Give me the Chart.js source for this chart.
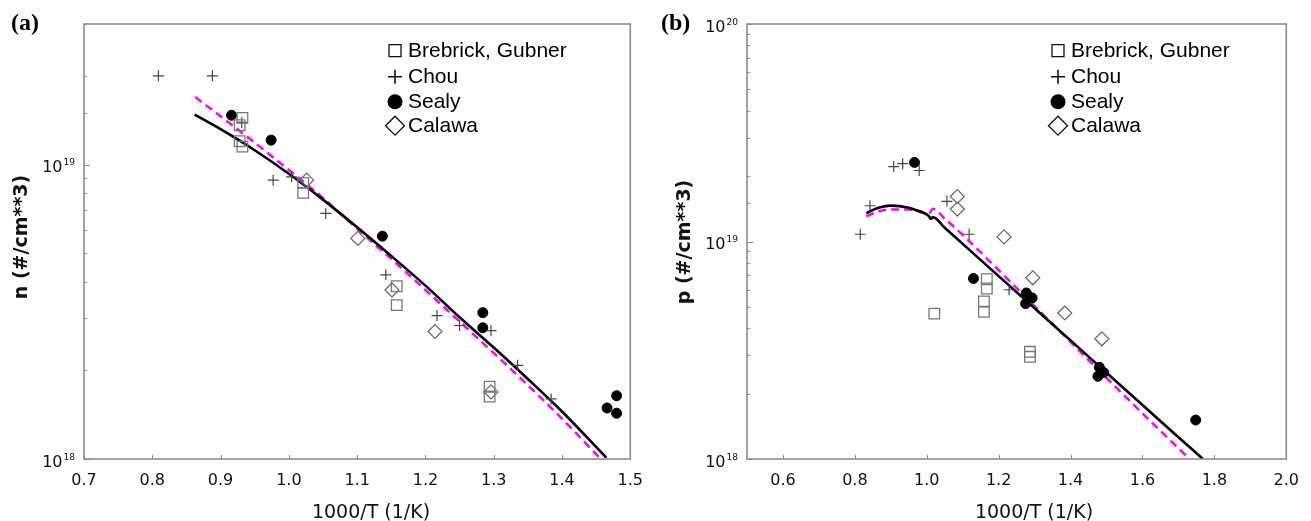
<!DOCTYPE html>
<html><head><meta charset="utf-8">
<script src="https://cdn.jsdelivr.net/npm/chart.js@4.4.0/dist/chart.umd.min.js"></script>
<style>
html,body{margin:0;padding:0;background:#fff;}
#wrap{position:relative;width:1311px;height:521px;overflow:hidden;background:#fff;}
canvas{position:absolute;top:0;}
.lbl{position:absolute;font-family:"Liberation Serif","DejaVu Serif",serif;font-weight:bold;font-size:24px;color:#000;line-height:1;}
.xt{position:absolute;font-family:"DejaVu Sans",sans-serif;font-size:19px;color:#111;white-space:nowrap;transform:translate(-50%,-50%);line-height:1;}
.yt{position:absolute;font-family:"DejaVu Sans",sans-serif;font-weight:bold;font-size:19px;color:#111;white-space:nowrap;transform:translate(-50%,-50%) rotate(-90deg);line-height:1;}
</style></head>
<body><div id="wrap">
<canvas id="ca" width="655" height="521" style="left:0"></canvas>
<canvas id="cb" width="656" height="521" style="left:655px"></canvas>
<div class="lbl" style="left:11px;top:10px">(a)</div>
<div class="lbl" style="left:661px;top:10px">(b)</div>
<div class="xt" style="left:371px;top:511px">1000/T (1/K)</div>
<div class="xt" style="left:1034px;top:511px">1000/T (1/K)</div>
<div class="yt" style="left:20px;top:237px">n (#/cm**3)</div>
<div class="yt" style="left:683px;top:242px">p (#/cm**3)</div>
</div>
<script>
// ---------- shared ----------
const seriesNames = ['Brebrick, Gubner', 'Chou', 'Sealy', 'Calawa'];
const xTicksA = [0.7, 0.8, 0.9, 1.0, 1.1, 1.2, 1.3, 1.4, 1.5];
const xTicksB = [0.6, 0.8, 1.0, 1.2, 1.4, 1.6, 1.8, 2.0];
const yLabelsA = [1e18, 1e19];
const yLabelsB = [1e18, 1e19, 1e20];

// ---------- data: panel (a) electrons ----------
const brebrickAx = [0.932, 0.928, 0.928, 0.932, 1.021, 1.021, 1.158, 1.158, 1.294, 1.294];
const brebrickAy = [1.44e19, 1.36e19, 1.20e19, 1.15e19, 8.66e18, 8.01e18, 3.86e18, 3.33e18, 1.76e18, 1.63e18];
const chouAx = [0.809, 0.888, 0.931, 0.977, 1.004, 1.054, 1.142, 1.217, 1.250, 1.296, 1.335, 1.384];
const chouAy = [2.0e19, 2.0e19, 1.39e19, 8.85e18, 9.08e18, 6.82e18, 4.22e18, 3.07e18, 2.84e18, 2.73e18, 2.08e18, 1.60e18];
const sealyAx = [0.916, 0.974, 1.137, 1.284, 1.284, 1.480, 1.466, 1.480];
const sealyAy = [1.47e19, 1.21e19, 5.71e18, 3.14e18, 2.79e18, 1.64e18, 1.49e18, 1.43e18];
const calawaAx = [1.026, 1.101, 1.151, 1.214, 1.296];
const calawaAy = [8.85e18, 5.61e18, 3.75e18, 2.71e18, 1.69e18];
const modelAx = [0.862, 0.90, 0.95, 1.00, 1.05, 1.10, 1.15, 1.20, 1.25, 1.30, 1.35, 1.40, 1.465];
const modelAy = [1.476e19, 1.318e19, 1.118e19, 9.30e18, 7.60e18, 6.12e18, 4.89e18, 3.88e18, 3.03e18, 2.39e18, 1.87e18, 1.45e18, 1.01e18];
const fitAx = [0.863, 0.90, 0.95, 1.00, 1.05, 1.10, 1.15, 1.20, 1.25, 1.30, 1.35, 1.40, 1.455];
const fitAy = [1.694e19, 1.459e19, 1.186e19, 9.58e18, 7.70e18, 6.05e18, 4.78e18, 3.75e18, 2.93e18, 2.29e18, 1.78e18, 1.37e18, 1.01e18];

// ---------- data: panel (b) holes ----------
const brebrickBx = [1.021, 1.167, 1.167, 1.159, 1.159, 1.287, 1.287];
const brebrickBy = [4.66e18, 6.71e18, 6.08e18, 5.30e18, 4.75e18, 3.11e18, 2.95e18];
const chouBx = [0.815, 0.842, 0.908, 0.933, 0.979, 1.056, 1.118, 1.229];
const chouBy = [1.08e19, 1.46e19, 2.21e19, 2.28e19, 2.12e19, 1.53e19, 1.08e19, 6.0e18];
const sealyBx = [0.966, 1.130, 1.277, 1.293, 1.275, 1.480, 1.492, 1.476, 1.748];
const sealyBy = [2.31e19, 6.76e18, 5.80e18, 5.50e18, 5.18e18, 2.64e18, 2.50e18, 2.40e18, 1.51e18];
const calawaBx = [1.085, 1.085, 1.215, 1.295, 1.384, 1.487];
const calawaBy = [1.61e19, 1.41e19, 1.05e19, 6.81e18, 4.69e18, 3.57e18];
const modelBx = [0.832, 0.86, 0.90, 0.95, 0.98, 1.005, 1.012, 1.017, 1.05, 1.10, 1.20, 1.30, 1.40, 1.50, 1.60, 1.70, 1.768];
const modelBy = [1.349e19, 1.419e19, 1.462e19, 1.429e19, 1.374e19, 1.312e19, 1.271e19, 1.294e19, 1.156e19, 9.75e18, 6.93e18, 4.93e18, 3.51e18, 2.49e18, 1.77e18, 1.26e18, 1.00e18];
const fitBx = [0.832, 0.86, 0.90, 0.95, 0.98, 1.005, 1.018, 1.05, 1.10, 1.20, 1.30, 1.40, 1.50, 1.60, 1.731];
const fitBy = [1.303e19, 1.365e19, 1.403e19, 1.403e19, 1.380e19, 1.340e19, 1.413e19, 1.274e19, 1.072e19, 7.38e18, 5.05e18, 3.45e18, 2.36e18, 1.62e18, 1.00e18];

// ---------- helpers ----------
const pts = (xs, ys) => xs.map((x, i) => ({x: x, y: ys[i]}));
const isPow10 = v => { const e = Math.log10(v); return Math.abs(e - Math.round(e)) < 1e-6; };

const markerStyles = [
  {pointStyle: 'rect', pointRadius: 7.5, pointBorderColor: '#777', pointBackgroundColor: 'rgba(0,0,0,0)', pointBorderWidth: 1.3},
  {pointStyle: 'cross', pointRadius: 5.5, pointBorderColor: '#444', pointBackgroundColor: '#444', pointBorderWidth: 1.2},
  {pointStyle: 'circle', pointRadius: 5, pointBorderColor: '#000', pointBackgroundColor: '#000', pointBorderWidth: 1},
  {pointStyle: 'rectRot', pointRadius: 7, pointBorderColor: '#666', pointBackgroundColor: 'rgba(0,0,0,0)', pointBorderWidth: 1.2}
];

const framePlugin = {
  id: 'frame',
  afterDraw(chart, args, opts) {
    const ctx = chart.ctx, a = chart.chartArea, xs = chart.scales.x, ys = chart.scales.y;
    ctx.save();
    ctx.strokeStyle = '#888'; ctx.lineWidth = 1;
    xs.ticks.forEach(t => {
      const px = Math.round(xs.getPixelForValue(t.value)) + 0.5;
      ctx.beginPath(); ctx.moveTo(px, a.bottom); ctx.lineTo(px, a.bottom - 4); ctx.stroke();
    });
    ys.ticks.forEach(t => {
      const py = Math.round(ys.getPixelForValue(t.value)) + 0.5;
      const len = isPow10(t.value) ? 6 : 3;
      ctx.beginPath(); ctx.moveTo(a.left, py); ctx.lineTo(a.left + len, py); ctx.stroke();
    });
    ctx.strokeStyle = '#8c8c8c'; ctx.lineWidth = 1.6;
    ctx.strokeRect(a.left, a.top, a.right - a.left, a.bottom - a.top);
    ctx.fillStyle = '#111';
    opts.yLabels.forEach(v => {
      const py = ys.getPixelForValue(v);
      const exp = String(Math.round(Math.log10(v)));
      ctx.font = '9px "DejaVu Sans"';
      ctx.textAlign = 'right'; ctx.textBaseline = 'alphabetic';
      const right = a.left - 9;
      ctx.fillText(exp, right, py + 0.8);
      const w = ctx.measureText(exp).width;
      ctx.font = '16px "DejaVu Sans"';
      ctx.fillText('10', right - w - 1, py + 7.5);
    });
    const mx = a.left + 311, tx = a.left + 324;
    const rows = [26.7, 52.7, 77.7, 101.7];
    ctx.font = '21px "Liberation Sans", Arial, sans-serif';
    ctx.textAlign = 'left'; ctx.textBaseline = 'middle';
    seriesNames.forEach((name, i) => {
      const y = a.top + rows[i];
      ctx.strokeStyle = '#111'; ctx.fillStyle = '#000'; ctx.lineWidth = 1.3;
      ctx.beginPath();
      if (i === 0) { ctx.rect(mx - 6, y - 6, 12, 12); ctx.stroke(); }
      else if (i === 1) { ctx.lineWidth = 1.6; ctx.moveTo(mx - 7, y); ctx.lineTo(mx + 7, y); ctx.moveTo(mx, y - 7); ctx.lineTo(mx, y + 7); ctx.stroke(); }
      else if (i === 2) { ctx.arc(mx, y, 7.5, 0, Math.PI * 2); ctx.fill(); }
      else { ctx.moveTo(mx - 9.5, y); ctx.lineTo(mx, y - 9.5); ctx.lineTo(mx + 9.5, y); ctx.lineTo(mx, y + 9.5); ctx.closePath(); ctx.stroke(); }
      ctx.fillStyle = '#000';
      ctx.fillText(name, tx, y + 1);
    });
    ctx.restore();
  }
};

function makeChart(id, d) {
  const markerSets = [
    [d.bx, d.by], [d.cx, d.cy], [d.sx, d.sy], [d.kx, d.ky]
  ].map((s, i) => Object.assign({
    label: seriesNames[i], data: pts(s[0], s[1]), showLine: false, order: i
  }, markerStyles[i]));
  const lines = [
    {label: 'model', data: pts(d.mx, d.my), showLine: true, borderColor: '#000', borderWidth: 2.6, pointRadius: 0, order: 10, cubicInterpolationMode: 'monotone'},
    {label: 'fit', data: pts(d.fx, d.fy), showLine: true, borderColor: '#ff00ff', borderWidth: 2.5, borderDash: [8, 5], pointRadius: 0, order: 11, cubicInterpolationMode: 'monotone'}
  ];
  return new Chart(document.getElementById(id), {
    type: 'scatter',
    data: {datasets: markerSets.concat(lines)},
    plugins: [framePlugin],
    options: {
      responsive: false, animation: false, devicePixelRatio: 1,
      layout: {padding: {left: 0, right: d.padRight, top: 24, bottom: 0}},
      plugins: {legend: {display: false}, tooltip: {enabled: false}, frame: {yLabels: d.yLabels}},
      scales: {
        x: {
          type: 'linear', min: d.xmin, max: d.xmax,
          afterBuildTicks: s => { s.ticks = d.xTicks.map(v => ({value: v})); },
          afterFit: s => { s.height = 62; },
          grid: {display: false, drawTicks: false},
          border: {display: false},
          ticks: {font: {family: 'DejaVu Sans', size: 16}, color: '#111', padding: 12, maxRotation: 0, autoSkip: false,
                  callback: v => Number(v).toFixed(1)}
        },
        y: {
          type: 'logarithmic', min: 1e18, max: d.ymax,
          afterFit: s => { s.width = d.yWidth; },
          grid: {display: false, drawTicks: false},
          border: {display: false},
          ticks: {display: false}
        }
      }
    }
  });
}

makeChart('ca', {
  bx: brebrickAx, by: brebrickAy, cx: chouAx, cy: chouAy, sx: sealyAx, sy: sealyAy, kx: calawaAx, ky: calawaAy,
  mx: modelAx, my: modelAy, fx: fitAx, fy: fitAy,
  xmin: 0.7, xmax: 1.5, ymax: 3e19, xTicks: xTicksA, yLabels: yLabelsA, yWidth: 84, padRight: 22.5
});
makeChart('cb', {
  bx: brebrickBx, by: brebrickBy, cx: chouBx, cy: chouBy, sx: sealyBx, sy: sealyBy, kx: calawaBx, ky: calawaBy,
  mx: modelBx, my: modelBy, fx: fitBx, fy: fitBy,
  xmin: 0.5, xmax: 2.0, ymax: 1e20, xTicks: xTicksB, yLabels: yLabelsB, yWidth: 92, padRight: 16.3
});
</script>
</body></html>
